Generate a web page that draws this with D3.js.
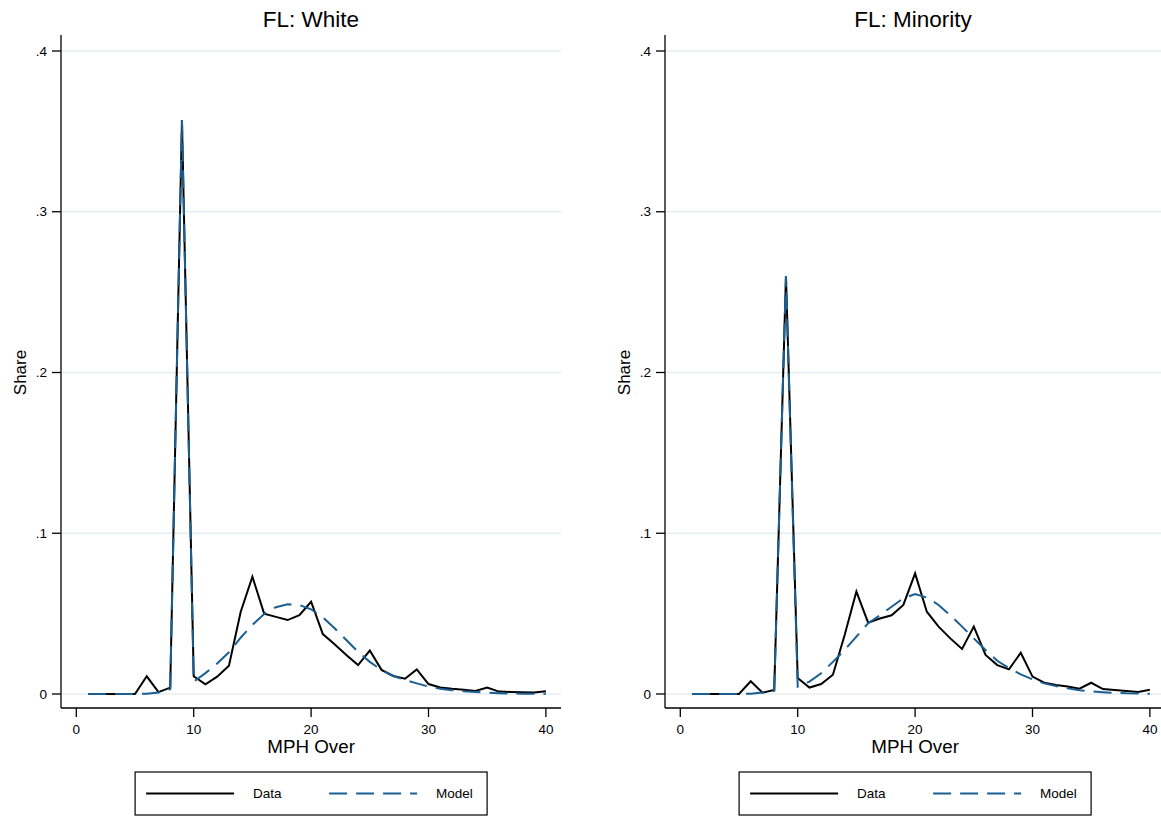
<!DOCTYPE html>
<html>
<head>
<meta charset="utf-8">
<script src="https://cdn.jsdelivr.net/npm/d3@7"></script>
<style>
  body { margin: 0; background: #fff; }
  svg { font-family: "Liberation Sans", Arial, Helvetica, sans-serif; }
  .grid line { stroke: #e4edf0; stroke-width: 1.4; }
</style>
</head>
<body>
<svg class="chart"></svg>
<script>
// MPH over the limit, 1..40
const mph = d3.range(1, 41)

const whiteData = [0, 0, 0, 0, 0, 0.011, 0.0012, 0.004, 0.357, 0.011,
  0.006, 0.0108, 0.0176, 0.051, 0.073, 0.050, 0.048, 0.046, 0.049, 0.0574,
  0.0373, 0.031, 0.0243, 0.018, 0.027, 0.015, 0.0112, 0.0095, 0.0153, 0.0062,
  0.0041, 0.0033, 0.0027, 0.0019, 0.004, 0.0015, 0.0013, 0.0011, 0.0009, 0.0017]
const whiteModel = [0, 0, 0, 0, 0, 0.0002, 0.001, 0.003, 0.357, 0.0077,
  0.013, 0.019, 0.026, 0.035, 0.043, 0.0498, 0.054, 0.0558, 0.0554, 0.0527,
  0.0477, 0.0409, 0.0336, 0.0263, 0.020, 0.0149, 0.0112, 0.0087, 0.0066, 0.0046,
  0.0033, 0.0024, 0.0017, 0.0012, 0.0008, 0.0005, 0.0003, 0.0002, 0.0001, 0.0001]

const minorityData = [0, 0, 0, 0, 0, 0.0079, 0.0008, 0.0025, 0.26, 0.010,
  0.004, 0.0062, 0.012, 0.0367, 0.0637, 0.0444, 0.047, 0.049, 0.0554, 0.075,
  0.0512, 0.0419, 0.0346, 0.028, 0.0419, 0.0243, 0.018, 0.0153, 0.0257, 0.0108,
  0.007, 0.0056, 0.0046, 0.0033, 0.007, 0.0031, 0.0025, 0.0019, 0.0012, 0.0027]
const minorityModel = [0, 0, 0, 0, 0, 0.0002, 0.001, 0.002, 0.26, 0.0046,
  0.0077, 0.0129, 0.020, 0.0274, 0.0357, 0.044, 0.049, 0.0543, 0.0595, 0.0622,
  0.060, 0.0554, 0.049, 0.0419, 0.0346, 0.0274, 0.0207, 0.016, 0.0122, 0.0091,
  0.0066, 0.0049, 0.0035, 0.0024, 0.0016, 0.0011, 0.0007, 0.0004, 0.0003, 0.0002]

const xTicks = [0, 10, 20, 30, 40]
const yTicks = [0, 0.1, 0.2, 0.3, 0.4]
const yTickLabels = ['0', '.1', '.2', '.3', '.4']
const panelTitles = ['FL: White', 'FL: Minority']
const legendLabels = ['Data', 'Model']

const width = 1161
const height = 817
const modelColor = '#1a5e92'

const chart = d3.select('.chart')
  .attr('width', width)
  .attr('height', height)

const panels = [
  { title: panelTitles[0], data: whiteData, model: whiteModel, left: 61, right: 561 },
  { title: panelTitles[1], data: minorityData, model: minorityModel, left: 665, right: 1161 }
]

const drawPanel = (p) => {
  const top = 35
  const bottom = 708
  const x0 = p.left + 15.3

  const x = d3.scaleLinear().domain([0, 40]).range([x0, x0 + 469.6])
  const y = d3.scaleLinear().domain([0, 0.4]).range([694, 51])

  const g = chart.append('g')

  g.append('g').attr('class', 'grid')
    .selectAll('line')
    .data(yTicks)
    .enter()
    .append('line')
    .attr('x1', p.left + 1)
    .attr('x2', p.right)
    .attr('y1', d => y(d))
    .attr('y2', d => y(d))

  // y axis
  g.append('line')
    .attr('x1', p.left).attr('x2', p.left)
    .attr('y1', top).attr('y2', bottom)
    .attr('stroke', '#000').attr('stroke-width', 1.3)
  const yt = g.append('g').selectAll('g')
    .data(yTicks)
    .enter()
    .append('g')
    .attr('transform', d => `translate(${p.left},${y(d)})`)
  yt.append('line').attr('x1', -9).attr('x2', 0).attr('stroke', '#000').attr('stroke-width', 1.3)
  yt.append('text')
    .attr('x', -14)
    .attr('dy', '0.35em')
    .attr('text-anchor', 'end')
    .attr('font-size', 13.5)
    .text((d, i) => yTickLabels[i])

  // x axis
  g.append('line')
    .attr('x1', p.left).attr('x2', p.right)
    .attr('y1', bottom).attr('y2', bottom)
    .attr('stroke', '#000').attr('stroke-width', 1.3)
  const xt = g.append('g').selectAll('g')
    .data(xTicks)
    .enter()
    .append('g')
    .attr('transform', d => `translate(${x(d)},${bottom})`)
  xt.append('line').attr('y1', 0).attr('y2', 9).attr('stroke', '#000').attr('stroke-width', 1.3)
  xt.append('text')
    .attr('y', 26)
    .attr('text-anchor', 'middle')
    .attr('font-size', 13.5)
    .text(d => d)

  g.append('text')
    .attr('x', (p.left + p.right) / 2)
    .attr('y', 26.5)
    .attr('text-anchor', 'middle')
    .attr('font-size', 22.5)
    .text(p.title)

  g.append('text')
    .attr('x', x(20))
    .attr('y', 753)
    .attr('text-anchor', 'middle')
    .attr('font-size', 18.8)
    .text('MPH Over')

  g.append('text')
    .attr('transform', `translate(${p.left - 35},${y(0.2)}) rotate(-90)`)
    .attr('text-anchor', 'middle')
    .attr('font-size', 17)
    .text('Share')

  const line = d3.line().x((d, i) => x(mph[i])).y(d => y(d))

  g.append('path')
    .attr('d', line(p.data))
    .attr('fill', 'none')
    .attr('stroke', '#000')
    .attr('stroke-width', 2)
    .attr('stroke-linejoin', 'miter')

  g.append('path')
    .attr('d', line(p.model))
    .attr('fill', 'none')
    .attr('stroke', modelColor)
    .attr('stroke-width', 2)
    .attr('stroke-dasharray', '18,9')

  // legend
  const lx = x(20) - 176
  const leg = g.append('g').attr('transform', `translate(${lx},772)`)
  leg.append('rect')
    .attr('x', 0).attr('y', 0)
    .attr('width', 352).attr('height', 43)
    .attr('fill', '#fff')
    .attr('stroke', '#000')
    .attr('stroke-width', 1.2)
  leg.append('line')
    .attr('x1', 11).attr('x2', 99).attr('y1', 21.5).attr('y2', 21.5)
    .attr('stroke', '#000').attr('stroke-width', 2)
  leg.append('text')
    .attr('x', 118).attr('y', 21.5).attr('dy', '0.35em')
    .attr('font-size', 13.5)
    .text(legendLabels[0])
  leg.append('line')
    .attr('x1', 194).attr('x2', 282).attr('y1', 21.5).attr('y2', 21.5)
    .attr('stroke', modelColor).attr('stroke-width', 2)
    .attr('stroke-dasharray', '18,9')
  leg.append('text')
    .attr('x', 301).attr('y', 21.5).attr('dy', '0.35em')
    .attr('font-size', 13.5)
    .text(legendLabels[1])
}

panels.forEach(drawPanel)
</script>
</body>
</html>
